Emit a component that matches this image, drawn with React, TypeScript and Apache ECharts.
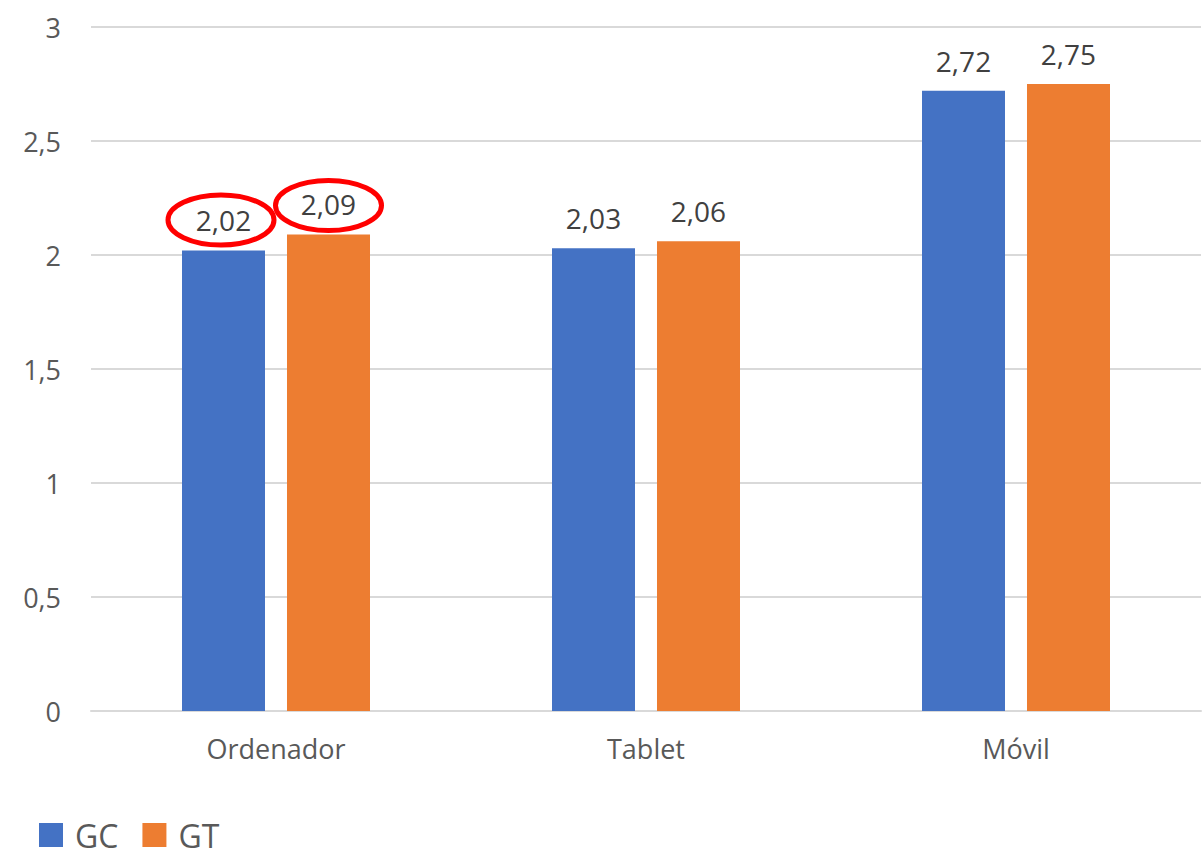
import React, { useEffect, useRef } from "react";
import * as echarts from "echarts";

const categories = ["Ordenador", "Tablet", "Móvil"];
const gcValues = [2.02, 2.03, 2.72];
const gtValues = [2.09, 2.06, 2.75];
const yTicks = { min: 0, max: 3, interval: 0.5 };

const fmt = (v: number) => String(v).replace(".", ",");

export default function App() {
  const ref = useRef<HTMLDivElement>(null);
  useEffect(() => {
    document.body.style.margin = "0";
    const chart = echarts.init(ref.current!, undefined, { renderer: "svg" });
    const font = "Open Sans";
    const labelStyle = {
      show: true,
      position: "top" as const,
      distance: 16,
      color: "#404040",
      fontSize: 28,
      fontFamily: font,
      formatter: (p: any) => fmt(p.value),
    };
    chart.setOption({
      animation: false,
      backgroundColor: "#ffffff",
      grid: { left: 91, right: 3, top: 27, bottom: 147, containLabel: false },
      legend: {
        left: 34,
        top: 814,
        itemWidth: 24,
        itemHeight: 24,
        itemGap: 24,
        icon: "rect",
        textStyle: { fontSize: 32, lineHeight: 32, color: "#595959", fontFamily: font, padding: [0, 0, 0, 7] },
        data: ["GC", "GT"],
      },
      xAxis: {
        type: "category",
        data: categories,
        axisLine: { show: true, lineStyle: { color: "#d9d9d9", width: 2 } },
        axisTick: { show: false },
        axisLabel: { color: "#595959", fontSize: 27, fontFamily: font, margin: 24 },
      },
      yAxis: {
        type: "value",
        min: yTicks.min,
        max: yTicks.max,
        interval: yTicks.interval,
        axisLine: { show: false },
        axisTick: { show: false },
        splitLine: { lineStyle: { color: "#d9d9d9", width: 2 } },
        axisLabel: {
          color: "#595959",
          fontSize: 27,
          fontFamily: font,
          margin: 30,
          formatter: (v: number) => fmt(v),
        },
      },
      series: [
        {
          name: "GC",
          type: "bar",
          data: gcValues,
          barWidth: 83,
          barGap: "26.5%",
          itemStyle: { color: "#4472c4" },
          label: labelStyle,
        },
        {
          name: "GT",
          type: "bar",
          data: gtValues,
          barWidth: 83,
          itemStyle: { color: "#ed7d31" },
          label: labelStyle,
        },
      ],
      graphic: [
        {
          type: "ellipse",
          shape: { cx: 221, cy: 220, rx: 53, ry: 25 },
          style: { fill: "none", stroke: "#ff0000", lineWidth: 5 },
          z: 100,
        },
        {
          type: "ellipse",
          shape: { cx: 328.5, cy: 205.5, rx: 53, ry: 25 },
          style: { fill: "none", stroke: "#ff0000", lineWidth: 5 },
          z: 100,
        },
      ],
    });
    return () => chart.dispose();
  }, []);
  return <div ref={ref} style={{ width: 1204, height: 858 }} />;
}
